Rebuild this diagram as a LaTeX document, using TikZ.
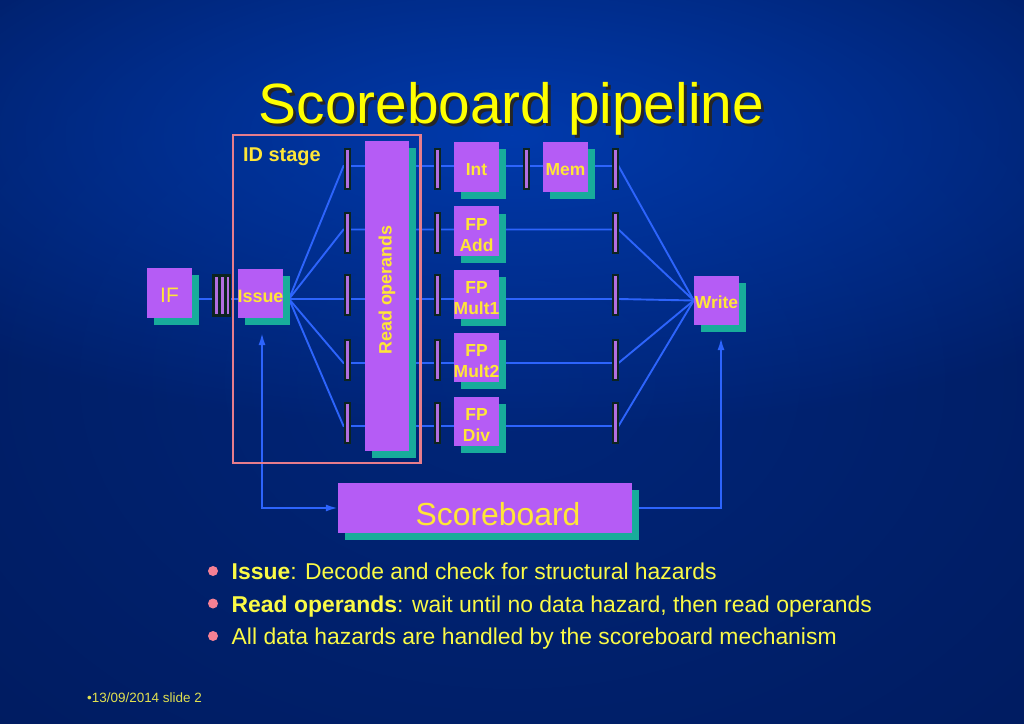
\documentclass[tikz,border=0pt]{standalone}
\usepackage{fontspec}
\setmainfont{Liberation Sans}
\usetikzlibrary{shadows,arrows.meta,calc,fadings}
\pgfdeclarelayer{bglayer}
\pgfdeclarelayer{wires}
\pgfsetlayers{bglayer,wires,main}
\definecolor{bgout}{RGB}{0,22,82}
\definecolor{bgmid}{RGB}{0,38,122}
\definecolor{bgin}{RGB}{0,58,172}
\definecolor{boxpurple}{RGB}{181,92,245}
\definecolor{boxteal}{RGB}{24,172,155}
\definecolor{wireblue}{RGB}{45,100,252}
\definecolor{regdark}{RGB}{12,36,32}
\definecolor{regpurple}{RGB}{178,110,225}
\definecolor{idpink}{RGB}{230,125,140}
\definecolor{bulpink}{RGB}{245,128,148}
\definecolor{titleyellow}{RGB}{255,255,0}
\definecolor{lbl}{RGB}{255,230,55}
\definecolor{btext}{RGB}{250,250,70}
\definecolor{foot}{RGB}{225,225,80}
\tikzfading[name=glow, inner color=transparent!0, outer color=transparent!100]
\newcommand\slRule[1]{\rule{0pt}{#1bp}}
\begin{document}
\begin{tikzpicture}[x=1bp,y=-1bp,
  box/.style={fill=boxpurple, inner sep=0pt, text=lbl, align=center,
    general shadow={fill=boxteal, shadow xshift=7bp, shadow yshift=-7bp}},
  unitbox/.style={box, minimum width=45bp, minimum height=49bp,
    font=\bfseries\fontsize{17.5}{21}\selectfont},
  regbox/.style={rectangle, fill=regpurple, draw=regdark, line width=2bp,
    minimum width=5bp, minimum height=40bp, inner sep=0pt},
  wire/.style={draw=wireblue, line width=1.9bp},
  tipend/.style={-{Latex[length=12bp,width=7bp]}},
  tipboth/.style={{Latex[length=12bp,width=7bp]}-{Latex[length=12bp,width=7bp]}},
  bul/.style={circle, fill=bulpink, minimum size=10bp, inner sep=0pt},
  btxt/.style={anchor=base west, text=btext, font=\fontsize{23}{26}\selectfont, inner sep=0pt}]
\useasboundingbox (0,0) rectangle (1024,724);
\begin{pgfonlayer}{bglayer}
  \fill[bgout] (0,0) rectangle (1024,724);
  \fill[bgmid, path fading=glow] (512,380) ellipse [x radius=1150bp, y radius=820bp];
  \fill[bgin, path fading=glow] (512,135) ellipse [x radius=780bp, y radius=300bp];
\end{pgfonlayer}

% title
\node[anchor=base, text=black!85, font=\fontsize{57}{62}\selectfont, inner sep=0pt] (titlesh) at (514.5,127) {Scoreboard pipeline};
\node[anchor=base, text=titleyellow, font=\fontsize{57}{62}\selectfont, inner sep=0pt] (title) at (511.5,124) {Scoreboard pipeline};

% ID stage frame
\node[draw=idpink, line width=2.5bp, minimum width=187.5bp, minimum height=328bp, inner sep=0pt] (idbox) at (326.75,299) {};
\node[anchor=base west, text=lbl, font=\bfseries\fontsize{20}{22}\selectfont, inner sep=0pt] (idlbl) at (243,162) {ID stage};

% row coordinates
\coordinate (row1) at (0,166);
\coordinate (row2) at (0,229.5);
\coordinate (row3) at (0,299);
\coordinate (row4) at (0,363);
\coordinate (row5) at (0,426);
\coordinate (issR) at (289,299);
\coordinate (issB) at (262,333);
\coordinate (wrB) at (721,338);

% IF, latch, Issue
\node[box, minimum width=45bp, minimum height=50bp, font=\fontsize{21}{24}\selectfont] (IF) at (169.5,293) {\slRule{18.5}IF};
\node[rectangle, fill=regdark, minimum width=19bp, minimum height=43bp, inner sep=0pt,
  path picture={\foreach \dx in {3,9,14.5}{\fill[regpurple] ([xshift=\dx bp, yshift=3bp]path picture bounding box.south west) rectangle ++(2.5bp,37bp);}}] (r0) at (221.5,295.5) {};
\node[box, minimum width=45bp, minimum height=49bp, font=\bfseries\fontsize{18}{21}\selectfont] (Issue) at (260.5,293.5) {\slRule{18}Issue};

% Read operands
\node[box, minimum width=44bp, minimum height=310bp] (RO) at (387,296) {};
\node[rotate=90, text=lbl, font=\bfseries\fontsize{18}{21}\selectfont, inner sep=0pt] (ROt) at (387,290) {Read operands};

% latch columns
\node[regbox] (rB1) at (347,169) {};
\node[regbox] (rB2) at (347,232.5) {};
\node[regbox] (rB3) at (347,295) {};
\node[regbox] (rB4) at (347,359.5) {};
\node[regbox] (rB5) at (347,422.5) {};
\node[regbox] (rC1) at (437,169) {};
\node[regbox] (rC2) at (437,232.5) {};
\node[regbox] (rC3) at (437,295) {};
\node[regbox] (rC4) at (437,359.5) {};
\node[regbox] (rC5) at (437,422.5) {};
\node[regbox] (rD1) at (526,169) {};
\node[regbox] (rE1) at (615,169) {};
\node[regbox] (rE2) at (615,232.5) {};
\node[regbox] (rE3) at (615,295) {};
\node[regbox] (rE4) at (615,359.5) {};
\node[regbox] (rE5) at (615,422.5) {};

% functional units
\node[unitbox] (Int) at (476.5,167) {\slRule{17}Int};
\node[unitbox] (FPAdd) at (476.5,231) {\slRule{20}FP\\Add};
\node[unitbox] (FPMul1) at (476.5,294) {\slRule{20}FP\\Mult1};
\node[unitbox] (FPMul2) at (476.5,357.5) {\slRule{20}FP\\Mult2};
\node[unitbox] (FPDiv) at (476.5,421) {\slRule{20}FP\\Div};
\node[unitbox] (Mem) at (565.5,167) {\slRule{17}Mem};
\node[unitbox] (Write) at (716.5,300.5) {\slRule{17}Write};

% Scoreboard
\node[box, minimum width=294bp, minimum height=50bp] (SB) at (485,508) {};
\node[text=lbl, font=\fontsize{32}{36}\selectfont, inner sep=0pt] (SBt) at (498,514) {Scoreboard};

% wires
\begin{pgfonlayer}{wires}
  \draw[wire] (IF.center |- row3) -- (Issue.center |- row3);
  \foreach \i in {1,...,5}{
    \draw[wire] (issR) -- (rB\i.west |- row\i) -- (rE\i.east |- row\i) -- (Write.west);
  }
  \draw[wire, tipboth] (issB) |- (SB.west);
  \draw[wire, tipend] (SB.east) -| (wrB);
\end{pgfonlayer}

% bullets
\node[bul] (b1) at (213,571) {};
\node[bul] (b2) at (213,603.5) {};
\node[bul] (b3) at (213,636) {};
\node[btxt] (t1) at (231.5,579) {\textbf{Issue}: Decode and check for structural hazards};
\node[btxt] (t2) at (231.5,612) {\textbf{Read operands}: wait until no data hazard, then read operands};
\node[btxt] (t3) at (231.5,644.5) {All data hazards are handled by the scoreboard mechanism};

% footer
\node[anchor=base west, text=foot, font=\fontsize{13.5}{15}\selectfont, inner sep=0pt] (foot) at (87,702) {•13/09/2014 slide 2};
\end{tikzpicture}
\end{document}
